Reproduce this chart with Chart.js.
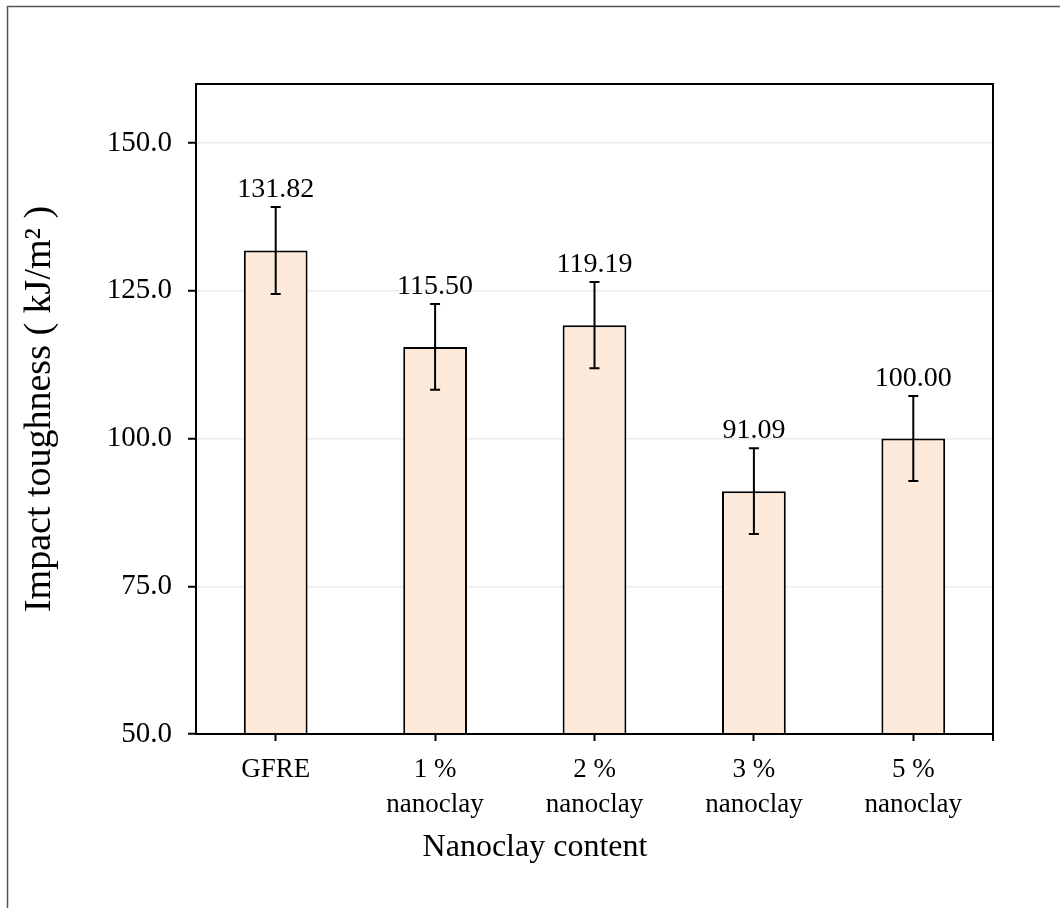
<!DOCTYPE html>
<html><head><meta charset="utf-8">
<script src="https://cdn.jsdelivr.net/npm/chart.js@4.4.1/dist/chart.umd.min.js"></script>
<style>html,body{margin:0;padding:0;background:#fff;} canvas{display:block;}</style>
</head><body>
<canvas id="c" width="1060" height="908"></canvas>
<script>
const categories = [["GFRE"], ["1 %", "nanoclay"], ["2 %", "nanoclay"], ["3 %", "nanoclay"], ["5 %", "nanoclay"]];
const toughness = [131.82, 115.50, 119.19, 91.09, 100.00];
const errors = [7.35, 7.25, 7.3, 7.25, 7.2];
const yTicks = [50, 75, 100, 125, 150];
const yMin = 50, yMax = 160;
const xTitle = "Nanoclay content";
const yTitle = "Impact toughness ( kJ/m\u00B2 )";

const FONT = "'Liberation Serif', 'Times New Roman', serif";
Chart.defaults.font.family = FONT;
Chart.defaults.color = '#000';

const decor = {
  id: 'decor',
  beforeDraw(chart) {
    const ctx = chart.ctx;
    ctx.save();
    ctx.strokeStyle = '#555';
    ctx.lineWidth = 1.5;
    ctx.beginPath();
    ctx.moveTo(7.5, chart.height);
    ctx.lineTo(7.5, 6.5);
    ctx.lineTo(chart.width, 6.5);
    ctx.stroke();
    ctx.restore();
  },
  afterDatasetsDraw(chart) {
    const ctx = chart.ctx;
    const xs = chart.scales.x, ys = chart.scales.y;
    ctx.save();
    ctx.strokeStyle = '#000';
    ctx.lineWidth = 2;
    ctx.fillStyle = '#000';
    ctx.font = "28px " + FONT;
    ctx.textAlign = 'center';
    ctx.textBaseline = 'alphabetic';
    toughness.forEach((v, i) => {
      const x = xs.getPixelForValue(i);
      const yt = ys.getPixelForValue(v + errors[i]);
      const yb = ys.getPixelForValue(v - errors[i]);
      ctx.beginPath();
      ctx.moveTo(x, yt); ctx.lineTo(x, yb);
      ctx.moveTo(x - 5, yt); ctx.lineTo(x + 5, yt);
      ctx.moveTo(x - 5, yb); ctx.lineTo(x + 5, yb);
      ctx.stroke();
      ctx.fillText(v.toFixed(2), x, yt - 10);
    });
    ctx.restore();
  },
  afterDraw(chart) {
    const ctx = chart.ctx;
    const a = chart.chartArea;
    ctx.save();
    ctx.strokeStyle = '#000';
    ctx.lineWidth = 2;
    ctx.strokeRect(a.left, a.top, a.right - a.left, a.bottom - a.top);
    ctx.beginPath();
    ctx.moveTo(a.right, a.bottom);
    ctx.lineTo(a.right, a.bottom + 7);
    ctx.stroke();
    ctx.restore();
  }
};

new Chart(document.getElementById('c'), {
  type: 'bar',
  data: {
    labels: categories,
    datasets: [{
      data: toughness,
      backgroundColor: '#fdeadb',
      borderColor: '#000',
      borderWidth: 2,
      borderSkipped: false,
      barPercentage: 0.4,
      categoryPercentage: 1.0
    }]
  },
  options: {
    responsive: false,
    animation: false,
    devicePixelRatio: 1,
    layout: { padding: { left: 10, top: 84, right: 0, bottom: 0 } },
    plugins: {
      legend: { display: false },
      tooltip: { enabled: false },
      title: {
        display: true,
        position: 'bottom',
        text: xTitle,
        color: '#000',
        font: { family: FONT, size: 32, weight: 'normal', lineHeight: 1.2 },
        padding: { top: 0, bottom: 41 }
      }
    },
    scales: {
      x: {
        offset: true,
        grid: { offset: false, drawOnChartArea: false, color: '#000', tickColor: '#000', tickWidth: 2, tickLength: 7 },
        border: { display: false },
        ticks: { font: { family: FONT, size: 27, lineHeight: 1.3 }, color: '#000', padding: 11, maxRotation: 0, autoSkip: false },
        afterFit(s) { s.height = 94.6; }
      },
      y: {
        min: yMin, max: yMax,
        afterBuildTicks(s) { s.ticks = yTicks.map(v => ({ value: v })); },
        grid: { color: '#ebebeb', lineWidth: 1.5, tickColor: '#000', tickWidth: 2, tickLength: 8 },
        border: { display: false },
        ticks: { font: { family: FONT, size: 29 }, color: '#000', padding: 16, callback: v => Number(v).toFixed(1) },
        title: { display: true, text: yTitle, color: '#000', font: { family: FONT, size: 38, weight: 'normal', lineHeight: 1.2 }, padding: { top: 7, bottom: 0 } },
        afterFit(s) { s.width = 186; }
      },
      y2: {
        type: 'linear',
        position: 'right',
        display: true,
        grid: { display: false },
        border: { display: false },
        ticks: { display: false },
        afterFit(s) { s.width = 67; }
      }
    }
  },
  plugins: [decor]
});
</script>
</body></html>
